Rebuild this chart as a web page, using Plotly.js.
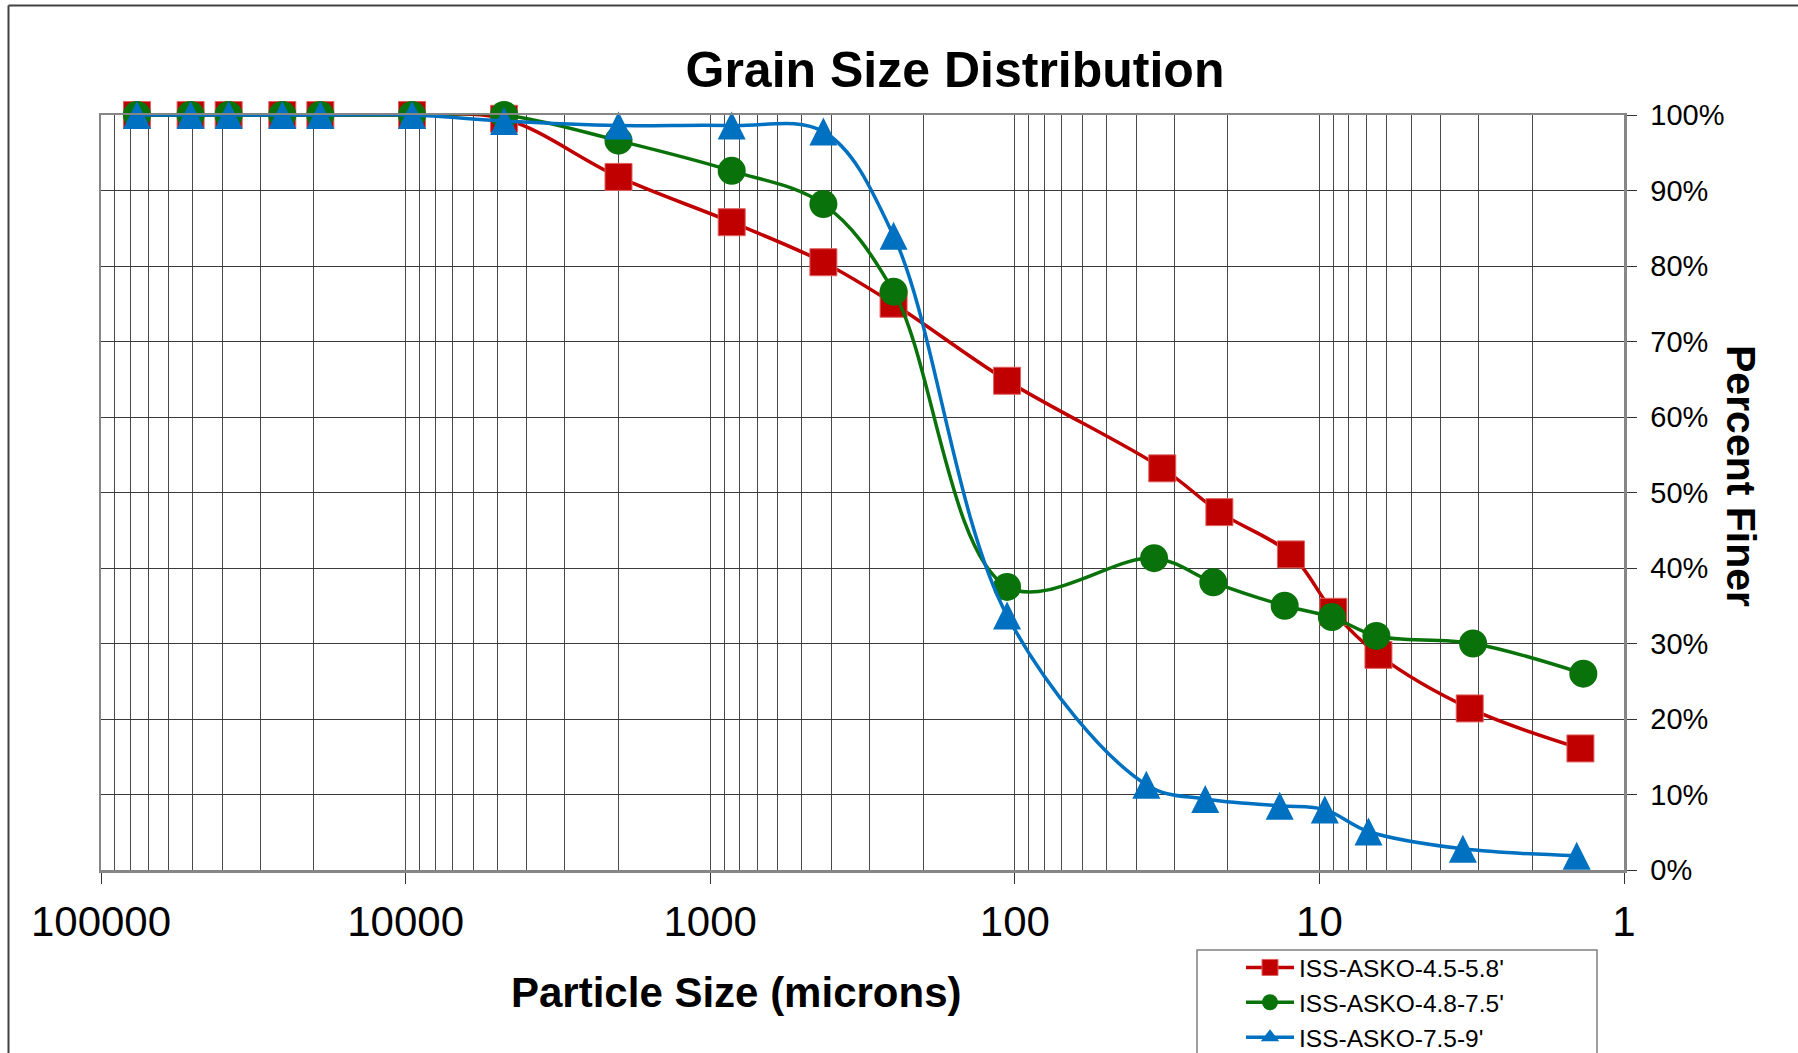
<!DOCTYPE html>
<html>
<head>
<meta charset="utf-8">
<script src="https://cdn.plot.ly/plotly-3.0.1.min.js"></script>
<style>
  html, body { margin: 0; padding: 0; background: #ffffff; overflow: hidden; }
  #chart { width: 1798px; height: 1053px; }
</style>
</head>
<body>
<div id="chart"></div>
<script>
// ---- data (particle size in microns, percent finer) ----
const seriesNames = ["ISS-ASKO-4.5-5.8'", "ISS-ASKO-4.8-7.5'", "ISS-ASKO-7.5-9'"];

const sizeRed   = [76200, 50800, 38100, 25400, 19050, 9525, 4750, 2000, 850, 425, 250, 106, 32.8, 21.3, 12.4, 9.0, 6.4, 3.21, 1.39];
const finerRed  = [100, 100, 100, 100, 100, 100, 99.5, 91.8, 85.8, 80.5, 75.0, 64.8, 53.2, 47.4, 41.8, 34.2, 28.5, 21.4, 16.1];

const sizeGreen  = [76200, 50800, 38100, 25400, 19050, 9525, 4750, 2000, 850, 425, 250, 106, 34.9, 22.3, 13.0, 9.1, 6.5, 3.13, 1.36];
const finerGreen = [100, 100, 100, 100, 100, 100, 100, 96.6, 92.6, 88.2, 76.6, 37.5, 41.3, 38.1, 35.0, 33.5, 31.0, 30.0, 26.0];

const sizeBlue  = [76200, 50800, 38100, 25400, 19050, 9525, 4750, 2000, 850, 425, 250, 106, 37.0, 23.7, 13.5, 9.6, 6.9, 3.38, 1.43];
const finerBlue = [100, 100, 100, 100, 100, 100, 99.2, 98.6, 98.6, 97.8, 84.0, 33.7, 11.3, 9.4, 8.5, 8.0, 5.1, 2.8, 1.9];

const xTickVals = [100000, 10000, 1000, 100, 10, 1];
const xTickText = ["100000", "10000", "1000", "100", "10", "1"];
const minorDigits = [2, 3, 4, 5, 6, 7, 8, 9];
const decades = [1, 10, 100, 1000, 10000];

const titleText = "Grain Size Distribution";
const xTitleText = "Particle Size (microns)";
const yTitleText = "Percent Finer";

// ---- build ----
const minorVals = [];
decades.forEach(d => minorDigits.forEach(k => minorVals.push(k * d)));

const FONT = "Liberation Sans, Arial, Helvetica, sans-serif";
const colors = ["#C00000", "#0A720A", "#0070C0"];

function trace(x, y, name, color, marker, extra) {
  return Object.assign({
    type: "scatter", mode: "lines+markers", name: name, x: x, y: y,
    line: { color: color, width: 3.5, shape: "spline", smoothing: 1 },
    marker: Object.assign({ color: color }, marker),
    cliponaxis: false
  }, extra || {});
}

const data = [
  trace(sizeRed, finerRed, seriesNames[0], colors[0], { symbol: "square", size: 27, line: { color: "#E06060", width: 1 } }),
  trace(sizeGreen, finerGreen, seriesNames[1], colors[1], { symbol: "circle", size: 28 }),
  // blue points: isosceles triangles centred on the data point
  trace(sizeBlue, finerBlue, seriesNames[2], colors[2], { symbol: "arrow-down", angle: 180, standoff: 14, size: 28 }, { showlegend: false }),
  // legend entry for the blue series (no points of its own)
  trace([null], [null], seriesNames[2], colors[2], { symbol: "triangle-up", size: 16 }, { hoverinfo: "skip" })
];

// plot area: left 101, right 1624, top 115, bottom 870
const L = 101, R = 1624, T = 115, B = 870;
const W = 1798, H = 1053;
const px = v => (v - L) / (R - L);
const py = v => (B - v) / (B - T);

const layout = {
  width: W, height: H,
  margin: { l: L, r: W - R, t: T, b: H - B, pad: 0, autoexpand: false },
  paper_bgcolor: "#ffffff",
  plot_bgcolor: "#ffffff",
  font: { family: FONT, color: "#000000" },
  showlegend: true,
  title: {
    text: titleText,
    x: 955 / W, xref: "container", xanchor: "center",
    y: 1 - 69 / H, yref: "container", yanchor: "middle",
    font: { family: FONT, size: 50, weight: "bold", color: "#000000" }
  },
  xaxis: {
    type: "log",
    range: [5, 0],
    tickmode: "array",
    tickvals: xTickVals,
    ticktext: xTickText,
    ticks: "outside", ticklen: 11, tickwidth: 1, tickcolor: "#333333",
    ticklabelstandoff: 2,
    tickfont: { family: FONT, size: 42, color: "#000000" },
    showgrid: true, gridcolor: "#4a4a4a", gridwidth: 1,
    minor: { tickmode: "array", tickvals: minorVals, ticks: "", showgrid: true, gridcolor: "#4a4a4a", gridwidth: 1 },
    showline: true, linecolor: "#868686", linewidth: 2.5, mirror: true,
    zeroline: false
  },
  yaxis: {
    side: "right",
    range: [0, 100],
    tickmode: "linear", tick0: 0, dtick: 10,
    ticksuffix: "%",
    ticks: "outside", ticklen: 10, tickwidth: 1, tickcolor: "#333333",
    ticklabelstandoff: 8,
    tickfont: { family: FONT, size: 29, color: "#000000" },
    showgrid: true, gridcolor: "#3a3a3a", gridwidth: 1,
    showline: true, linecolor: "#868686", linewidth: 2.5, mirror: true,
    zeroline: false
  },
  legend: {
    x: px(1241), xanchor: "left",
    y: py(945), yanchor: "top",
    bgcolor: "rgba(255,255,255,0)",
    borderwidth: 0,
    itemwidth: 48,
    font: { family: FONT, size: 24.5, color: "#000000" }
  },
  annotations: [
    {
      text: xTitleText, xref: "paper", yref: "paper",
      x: px(736), y: py(992), xanchor: "center", yanchor: "middle",
      showarrow: false,
      font: { family: FONT, size: 42, weight: "bold", color: "#000000" }
    },
    {
      text: yTitleText, xref: "paper", yref: "paper",
      x: px(1741), y: py(476), xanchor: "center", yanchor: "middle",
      textangle: 90, showarrow: false,
      font: { family: FONT, size: 41, weight: "bold", color: "#000000" }
    }
  ],
  shapes: [
    // legend box
    { type: "rect", xref: "paper", yref: "paper", layer: "below",
      x0: px(1197), x1: px(1597), y0: py(950), y1: py(1120),
      line: { color: "#808080", width: 1.5 }, fillcolor: "rgba(0,0,0,0)" },
    // outer chart frame (left and top edges)
    { type: "line", xref: "paper", yref: "paper",
      x0: px(8.5), x1: px(8.5), y0: py(5.5), y1: py(1120),
      line: { color: "#404040", width: 2 } },
    { type: "line", xref: "paper", yref: "paper",
      x0: px(8.5), x1: px(1900), y0: py(5.5), y1: py(5.5),
      line: { color: "#404040", width: 2 } }
  ]
};

Plotly.newPlot("chart", data, layout, { displayModeBar: false, staticPlot: true });
</script>
</body>
</html>
